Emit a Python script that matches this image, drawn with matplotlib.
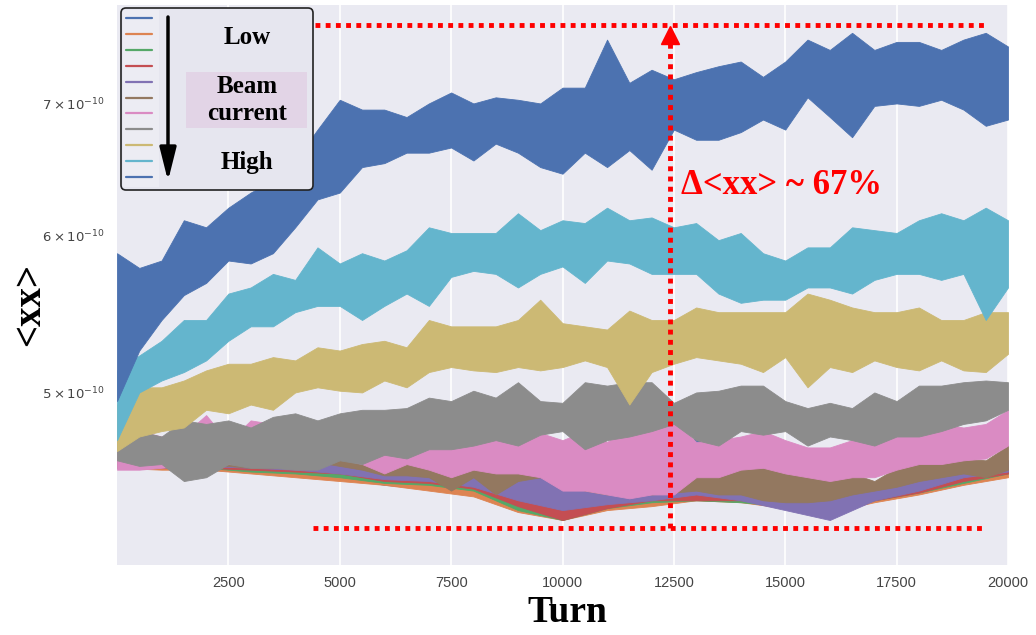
import numpy as np
import matplotlib.pyplot as plt
from matplotlib.lines import Line2D
from matplotlib.patches import FancyBboxPatch, FancyArrowPatch

plt.style.use('seaborn-v0_8-darkgrid')

W, H = 1036, 635
SCALE = 1e-10
SERIF = 'Liberation Serif'

# sample positions (turns) at which the band envelopes were read
turns_fine = np.arange(0, 20001, 500)
turns_coarse = np.arange(0, 20001, 1000)

# --- lowest currents (mostly hidden), band top / bottom in 1e-10 units, every 1000 turns
c01_top = [4.63, 4.62, 4.61, 4.60, 4.59, 4.58, 4.57, 4.55, 4.52, 4.45, 4.41,
           4.43, 4.46, 4.75, 4.46, 4.45, 4.43, 4.47, 4.51, 4.57, 4.60]
c01_bot = [4.58, 4.58, 4.57, 4.56, 4.54, 4.53, 4.49, 4.47, 4.44, 4.36, 4.34,
           4.37, 4.40, 4.42, 4.41, 4.38, 4.36, 4.41, 4.45, 4.50, 4.55]
c02_top = [4.62, 4.62, 4.61, 4.60, 4.59, 4.58, 4.56, 4.54, 4.51, 4.43, 4.40,
           4.42, 4.44, 4.70, 4.44, 4.43, 4.42, 4.46, 4.50, 4.56, 4.59]
c02_bot = [4.58, 4.57, 4.57, 4.55, 4.53, 4.51, 4.49, 4.46, 4.43, 4.35, 4.31,
           4.36, 4.38, 4.41, 4.40, 4.37, 4.35, 4.40, 4.44, 4.49, 4.53]
c03_top = [4.63, 4.63, 4.62, 4.61, 4.60, 4.60, 4.58, 4.56, 4.54, 4.46, 4.41,
           4.43, 4.46, 4.46, 4.46, 4.45, 4.43, 4.47, 4.51, 4.57, 4.61]
c03_bot = [4.58, 4.58, 4.58, 4.56, 4.55, 4.53, 4.50, 4.49, 4.46, 4.36, 4.31,
           4.37, 4.40, 4.41, 4.40, 4.38, 4.36, 4.41, 4.45, 4.50, 4.55]
c04_top = [4.63, 4.63, 4.62, 4.61, 4.61, 4.61, 4.59, 4.57, 4.57, 4.51, 4.46,
           4.46, 4.48, 4.48, 4.48, 4.46, 4.45, 4.48, 4.53, 4.57, 4.62]
c04_bot = [4.59, 4.58, 4.58, 4.57, 4.56, 4.55, 4.51, 4.50, 4.47, 4.38, 4.31,
           4.37, 4.41, 4.41, 4.41, 4.38, 4.35, 4.41, 4.45, 4.51, 4.55]
c05_top = [4.64, 4.64, 4.63, 4.63, 4.62, 4.63, 4.60, 4.60, 4.59, 4.60, 4.54,
           4.50, 4.51, 4.51, 4.48, 4.46, 4.45, 4.47, 4.52, 4.58, 4.62]
c05_bot = [4.59, 4.59, 4.59, 4.58, 4.57, 4.55, 4.52, 4.51, 4.48, 4.41, 4.36,
           4.39, 4.41, 4.44, 4.41, 4.36, 4.31, 4.41, 4.46, 4.53, 4.56]

# --- higher currents, band top / bottom in 1e-10 units, every 500 turns
c06_top = [4.64, 4.64, 4.64, 4.66, 4.67, 4.66, 4.67, 4.66, 4.67, 4.68, 4.66,
           4.64, 4.63, 4.64, 4.62, 4.62, 4.70, 4.62, 4.58, 4.60, 4.57,
           4.54, 4.48, 4.52, 4.53, 4.54, 4.58, 4.57, 4.58, 4.60, 4.57,
           4.55, 4.53, 4.55, 4.51, 4.58, 4.63, 4.62, 4.63, 4.62, 4.70]
c06_bot = [4.59, 4.58, 4.59, 4.59, 4.59, 4.59, 4.58, 4.58, 4.59, 4.61, 4.59,
           4.57, 4.54, 4.54, 4.53, 4.46, 4.53, 4.44, 4.51, 4.53, 4.51,
           4.46, 4.44, 4.45, 4.44, 4.45, 4.46, 4.44, 4.44, 4.41, 4.40,
           4.40, 4.41, 4.44, 4.46, 4.48, 4.51, 4.53, 4.55, 4.53, 4.57]
c07_top = [4.73, 4.78, 4.75, 4.76, 4.87, 4.72, 4.84, 4.82, 4.78, 4.72, 4.86,
           4.78, 4.77, 4.75, 4.69, 4.78, 4.80, 4.75, 4.73, 4.77, 4.73,
           4.78, 4.72, 4.80, 4.82, 4.84, 4.72, 4.73, 4.75, 4.78, 4.73,
           4.69, 4.69, 4.73, 4.75, 4.75, 4.78, 4.82, 4.80, 4.82, 4.90]
c07_bot = [4.57, 4.57, 4.58, 4.59, 4.62, 4.60, 4.60, 4.63, 4.63, 4.58, 4.63,
           4.60, 4.55, 4.60, 4.57, 4.53, 4.57, 4.55, 4.55, 4.53, 4.46,
           4.46, 4.44, 4.42, 4.44, 4.44, 4.53, 4.53, 4.57, 4.58, 4.55,
           4.53, 4.51, 4.53, 4.53, 4.57, 4.60, 4.60, 4.62, 4.63, 4.70]
c08_top = [4.73, 4.78, 4.75, 4.84, 4.82, 4.84, 4.80, 4.86, 4.88, 4.84, 4.88,
           4.90, 4.90, 4.91, 4.97, 4.95, 5.01, 4.97, 5.06, 4.95, 4.94,
           5.06, 5.04, 5.06, 5.06, 4.94, 5.00, 5.01, 5.04, 5.04, 4.95,
           4.91, 4.94, 4.91, 5.00, 4.95, 5.04, 5.04, 5.06, 5.07, 5.06]
c08_bot = [4.62, 4.59, 4.60, 4.51, 4.53, 4.60, 4.58, 4.58, 4.57, 4.57, 4.62,
           4.60, 4.65, 4.63, 4.68, 4.68, 4.70, 4.73, 4.70, 4.76, 4.78,
           4.68, 4.73, 4.75, 4.78, 4.82, 4.73, 4.70, 4.78, 4.76, 4.78,
           4.70, 4.75, 4.73, 4.70, 4.75, 4.75, 4.78, 4.82, 4.84, 4.90]
c09_top = [4.93, 5.03, 5.03, 5.07, 5.13, 5.17, 5.17, 5.21, 5.19, 5.27, 5.25,
           5.29, 5.31, 5.27, 5.44, 5.40, 5.40, 5.40, 5.44, 5.57, 5.42,
           5.40, 5.38, 5.50, 5.44, 5.44, 5.52, 5.49, 5.49, 5.49, 5.49,
           5.61, 5.57, 5.52, 5.49, 5.49, 5.52, 5.44, 5.44, 5.49, 5.49]
c09_bot = [4.67, 4.75, 4.78, 4.80, 4.90, 4.88, 4.93, 4.90, 5.00, 5.03, 5.01,
           5.00, 5.07, 5.03, 5.12, 5.15, 5.13, 5.12, 5.15, 5.13, 5.15,
           5.19, 5.15, 4.93, 5.12, 5.17, 5.21, 5.19, 5.17, 5.12, 5.21,
           5.03, 5.15, 5.12, 5.19, 5.15, 5.13, 5.19, 5.13, 5.12, 5.23]
c10_top = [5.13, 5.22, 5.31, 5.44, 5.44, 5.61, 5.65, 5.74, 5.70, 5.92, 5.81,
           5.88, 5.83, 5.90, 6.06, 6.02, 6.02, 6.02, 6.16, 6.04, 6.11,
           6.09, 6.20, 6.11, 6.13, 6.06, 6.09, 5.97, 6.02, 5.88, 5.83,
           5.92, 5.92, 6.06, 6.04, 6.02, 6.11, 6.16, 6.11, 6.20, 6.11]
c10_bot = [4.73, 5.00, 5.07, 5.12, 5.19, 5.31, 5.40, 5.40, 5.49, 5.53, 5.53,
           5.44, 5.53, 5.61, 5.53, 5.72, 5.76, 5.74, 5.65, 5.74, 5.79,
           5.68, 5.83, 5.81, 5.74, 5.74, 5.74, 5.61, 5.55, 5.57, 5.57,
           5.65, 5.65, 5.61, 5.70, 5.74, 5.74, 5.70, 5.74, 5.44, 5.65]
c11_top = [5.88, 5.78, 5.83, 6.11, 6.06, 6.20, 6.31, 6.40, 6.55, 6.79, 7.03,
           6.95, 6.95, 6.89, 7.00, 7.09, 7.00, 7.05, 7.03, 7.00, 7.13,
           7.13, 7.54, 7.17, 7.28, 7.20, 7.26, 7.31, 7.35, 7.22, 7.35,
           7.54, 7.45, 7.60, 7.45, 7.52, 7.52, 7.45, 7.54, 7.60, 7.48]
c11_bot = [4.95, 5.25, 5.44, 5.60, 5.68, 5.83, 5.81, 5.88, 6.06, 6.26, 6.31,
           6.50, 6.53, 6.61, 6.61, 6.65, 6.55, 6.68, 6.61, 6.50, 6.45,
           6.61, 6.50, 6.63, 6.48, 6.79, 6.71, 6.71, 6.77, 6.87, 6.79,
           7.05, 6.89, 6.73, 6.98, 7.00, 6.98, 7.03, 6.95, 6.82, 6.87]

palette = ['#4C72B0', '#DD8452', '#55A868', '#C44E52', '#8172B3', '#937860',
           '#DA8BC3', '#8C8C8C', '#CCB974', '#64B5CD', '#4C72B0']

bands = [
    (turns_coarse, c01_bot, c01_top),
    (turns_coarse, c02_bot, c02_top),
    (turns_coarse, c03_bot, c03_top),
    (turns_coarse, c04_bot, c04_top),
    (turns_coarse, c05_bot, c05_top),
    (turns_fine, c06_bot, c06_top),
    (turns_fine, c07_bot, c07_top),
    (turns_fine, c08_bot, c08_top),
    (turns_fine, c09_bot, c09_top),
    (turns_fine, c10_bot, c10_top),
    (turns_fine, c11_bot, c11_top),
]

x_ticks = [2500, 5000, 7500, 10000, 12500, 15000, 17500, 20000]
y_ticks = [5, 6, 7]
y_tick_labels = [r'$5\times10^{-10}$', r'$6\times10^{-10}$', r'$7\times10^{-10}$']

# annotation geometry (turns / <xx> values)
bracket_top = 7.67
bracket_bot = 4.27
top_span = (4440, 19460)
bot_span = (4400, 19420)
arrow_x = 12410
delta_label = 'Δ<xx> ~ 67%'

fig = plt.figure(figsize=(W / 100, H / 100), dpi=100)
ax = fig.add_axes([117 / W, 70 / H, 891 / W, 560 / H])

for (t, lo, hi), col in zip(bands, palette):
    ax.fill_between(t, np.array(lo) * SCALE, np.array(hi) * SCALE,
                    color=col, lw=0.6, edgecolor=col)

ax.set_yscale('log')
ax.set_xlim(0, 20000)
ax.set_ylim(4.09e-10, 7.85e-10)
ax.set_xticks(x_ticks)
ax.set_yticks([v * SCALE for v in y_ticks])
ax.set_yticklabels(y_tick_labels)
ax.set_yticks([], minor=True)
ax.tick_params(axis='x', labelsize=10.5, pad=8, colors='#444444')
ax.tick_params(axis='y', which='both', labelsize=9.5, pad=9, colors='#444444')
ax.grid(True, axis='x', color='white', lw=1.2)
ax.grid(False, axis='y', which='both')

# red guides
red_dots = dict(color='red', lw=3.5, linestyle=(0, (1, 1.1)), dash_capstyle='butt')
ax.plot(top_span, [bracket_top * SCALE] * 2, **red_dots)
ax.plot(bot_span, [bracket_bot * SCALE] * 2, **red_dots)
ax.plot([arrow_x, arrow_x], [bracket_bot * SCALE, 7.55 * SCALE], **red_dots)
ax.plot([arrow_x], [7.58 * SCALE], marker='^', color='red', markersize=13)
ax.text(12650, 6.36 * SCALE, delta_label, color='red', fontsize=25,
        fontweight='bold', family=SERIF, ha='left', va='center')

# axis labels
fig.text(30 / W, 1 - 305 / H, '<xx>', rotation=90, fontsize=28, fontweight='bold',
         family=SERIF, ha='center', va='center', color='black')
fig.text(567 / W, 1 - 612 / H, 'Turn', fontsize=27, fontweight='bold',
         family=SERIF, ha='center', va='center', color='black')

# legend box
box = FancyBboxPatch((121, H - 190), 192, 182, boxstyle='round,pad=0,rounding_size=5',
                     transform=None, facecolor='#E6E6EF', edgecolor='#222222', lw=1.2,
                     zorder=5)
fig.add_artist(box)
hbox = FancyBboxPatch((123, H - 187), 36, 177, boxstyle='square,pad=0',
                      transform=None, facecolor='#ECECF3', edgecolor='none', zorder=5)
fig.add_artist(hbox)
handles = [Line2D([], [], color=c, lw=1.6) for c in palette]
leg = fig.legend(handles, [' '] * len(handles), loc='upper left',
                 bbox_to_anchor=(126 / W, 1 - 14 / H), frameon=False, fontsize=8,
                 labelspacing=0.53, handlelength=2.3, handletextpad=0,
                 borderpad=0, borderaxespad=0)
leg.set_zorder(6)

fig.add_artist(plt.Rectangle((186, H - 128), 121, 56, transform=None,
                             facecolor='#E2D4E6', edgecolor='none', zorder=6))
arrow = FancyArrowPatch((168, H - 17), (168, H - 181), transform=None,
                        arrowstyle='-|>,head_length=20,head_width=5',
                        color='black', lw=2.5, mutation_scale=1,
                        shrinkA=0, shrinkB=0, zorder=7)
fig.add_artist(arrow)
legend_txt = dict(fontsize=18, fontweight='bold', family=SERIF, ha='center',
                  va='center', zorder=7, color='black')
fig.text(247 / W, 1 - 37 / H, 'Low', **legend_txt)
fig.text(247 / W, 1 - 100 / H, 'Beam\ncurrent', linespacing=1.2, **legend_txt)
fig.text(247 / W, 1 - 162 / H, 'High', **legend_txt)

fig.savefig('out.png', dpi=100)
